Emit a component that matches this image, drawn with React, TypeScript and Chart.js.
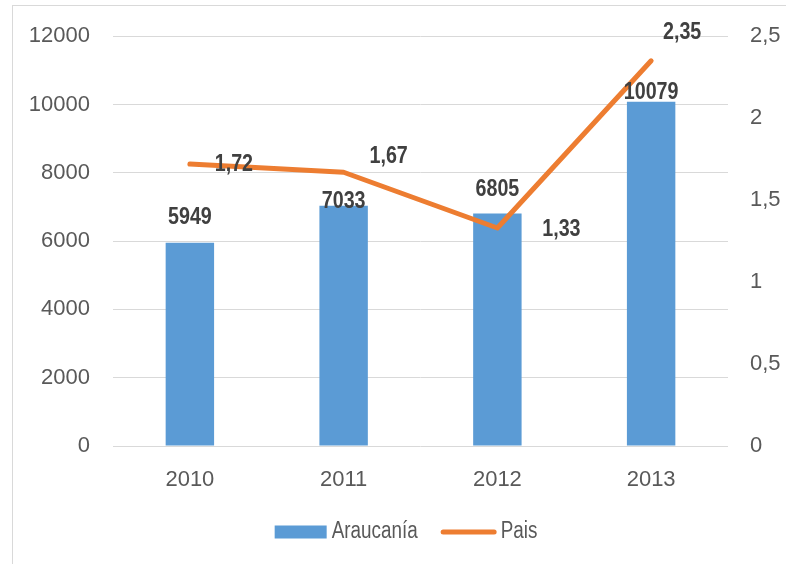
import React, { useEffect, useRef } from "react";
import { Chart, registerables } from "chart.js";

Chart.register(...registerables);

const categories = ["2010", "2011", "2012", "2013"];
const araucania = [5949, 7033, 6805, 10079];
const pais = [1.72, 1.67, 1.33, 2.35];
const leftTicks = [0, 2000, 4000, 6000, 8000, 10000, 12000];
const rightTicks = [0, 0.5, 1, 1.5, 2, 2.5];
const seriesNames = ["Araucanía", "Pais"];

// label offsets (px) relative to the mark
const barLabelOffsets = [-25, -4, -24, -9];
const lineLabelOffsets: [number, number][] = [
  [44, 0],
  [45, -16],
  [64, 1],
  [31, -28],
];

const BLUE = "#5b9bd5";
const ORANGE = "#ed7d31";
const TICK = "#595959";
const GRID = "#d9d9d9";
const TICK_FONT = "'Liberation Sans', Arial, sans-serif";
const NARROW = 0.82;

function narrowText(ctx: any, text: string, x: number, y: number, align: string) {
  ctx.save();
  ctx.translate(x, y);
  ctx.scale(NARROW, 1);
  ctx.textAlign = align;
  ctx.fillText(text, 0, 0);
  ctx.restore();
}

const labelPlugin = {
  id: "valueLabels",
  afterDatasetsDraw(chart: any) {
    const ctx = chart.ctx;
    ctx.save();
    ctx.font = `bold 24px ${TICK_FONT}`;
    ctx.fillStyle = "#404040";
    ctx.textBaseline = "middle";
    const barMeta = chart.getDatasetMeta(0);
    barMeta.data.forEach((el: any, i: number) => {
      narrowText(ctx, String(araucania[i]), el.x, el.y + barLabelOffsets[i], "center");
    });
    const lineMeta = chart.getDatasetMeta(1);
    lineMeta.data.forEach((el: any, i: number) => {
      const [dx, dy] = lineLabelOffsets[i];
      narrowText(ctx, String(pais[i]).replace(".", ","), el.x + dx, el.y + dy, "center");
    });
    ctx.restore();
  },
};

const legendPlugin = {
  id: "customLegend",
  afterDraw(chart: any) {
    const ctx = chart.ctx;
    ctx.save();
    ctx.font = `23px ${TICK_FONT}`;
    ctx.textBaseline = "middle";
    ctx.fillStyle = TICK;
    const w1 = ctx.measureText(seriesNames[0]).width * NARROW;
    const w2 = ctx.measureText(seriesNames[1]).width * NARROW;
    const box = 52;
    const line = 56;
    const total = box + 5 + w1 + 23 + line + 4 + w2;
    const cy = chart.chartArea.bottom + 86;
    let x = (chart.width - total) / 2 + 13;
    ctx.fillStyle = BLUE;
    ctx.fillRect(x, cy - 6.5, box, 13);
    x += box + 5;
    ctx.fillStyle = TICK;
    narrowText(ctx, seriesNames[0], x, cy, "left");
    x += w1 + 23;
    ctx.strokeStyle = ORANGE;
    ctx.lineWidth = 5;
    ctx.lineCap = "round";
    ctx.beginPath();
    ctx.moveTo(x + 2.5, cy);
    ctx.lineTo(x + line - 2.5, cy);
    ctx.stroke();
    x += line + 4;
    narrowText(ctx, seriesNames[1], x, cy, "left");
    ctx.restore();
  },
};

export default function App() {
  const ref = useRef<HTMLCanvasElement>(null);
  useEffect(() => {
    if (!ref.current) return;
    const chart = new Chart(ref.current, {
      type: "bar",
      data: {
        labels: categories,
        datasets: [
          {
            type: "bar",
            label: seriesNames[0],
            data: araucania,
            backgroundColor: BLUE,
            borderWidth: 0,
            barPercentage: 0.315,
            categoryPercentage: 1,
            yAxisID: "y",
            order: 1,
          },
          {
            type: "line",
            label: seriesNames[1],
            data: pais,
            borderColor: ORANGE,
            backgroundColor: ORANGE,
            borderWidth: 5,
            pointRadius: 0,
            borderJoinStyle: "round",
            borderCapStyle: "round",
            tension: 0,
            yAxisID: "y1",
            order: 0,
          },
        ] as any,
      },
      options: {
        animation: false,
        responsive: false,
        layout: { padding: { top: 30, bottom: 68, left: 0, right: 0 } },
        plugins: {
          tooltip: { enabled: false },
          legend: { display: false },
        },
        scales: {
          x: {
            grid: { display: false },
            border: { display: false },
            ticks: { color: TICK, font: { family: TICK_FONT, size: 22 }, padding: 13 },
            afterFit: (s: any) => {
              s.height = 50;
            },
          },
          y: {
            position: "left",
            min: 0,
            max: 12000,
            grid: { color: GRID, lineWidth: 1, drawTicks: false },
            border: { display: false },
            afterBuildTicks: (s: any) => {
              s.ticks = leftTicks.map((v) => ({ value: v }));
            },
            ticks: {
              color: TICK,
              font: { family: TICK_FONT, size: 22 },
              padding: 23,
              callback: (v: any) => String(v),
            },
            afterFit: (s: any) => {
              s.width = 113;
            },
          },
          y1: {
            position: "right",
            min: 0,
            max: 2.5,
            grid: { display: false, drawTicks: false },
            border: { display: false },
            afterBuildTicks: (s: any) => {
              s.ticks = rightTicks.map((v) => ({ value: v }));
            },
            ticks: {
              color: TICK,
              font: { family: TICK_FONT, size: 22 },
              padding: 22,
              callback: (v: any) => String(v).replace(".", ","),
            },
            afterFit: (s: any) => {
              s.width = 58;
            },
          },
        },
      } as any,
      plugins: [labelPlugin, legendPlugin],
    });
    return () => chart.destroy();
  }, []);

  return (
    <div
      style={{
        position: "absolute",
        left: 0,
        top: 0,
        width: 786,
        height: 564,
        overflow: "hidden",
        background: "#ffffff",
      }}
    >
      <div
        style={{
          position: "absolute",
          left: 12,
          top: 5,
          width: 900,
          height: 700,
          border: `1px solid ${GRID}`,
          boxSizing: "border-box",
        }}
      />
      <canvas
        ref={ref}
        width={786}
        height={564}
        style={{ position: "absolute", left: 0, top: 0, width: 786, height: 564 }}
      />
    </div>
  );
}
